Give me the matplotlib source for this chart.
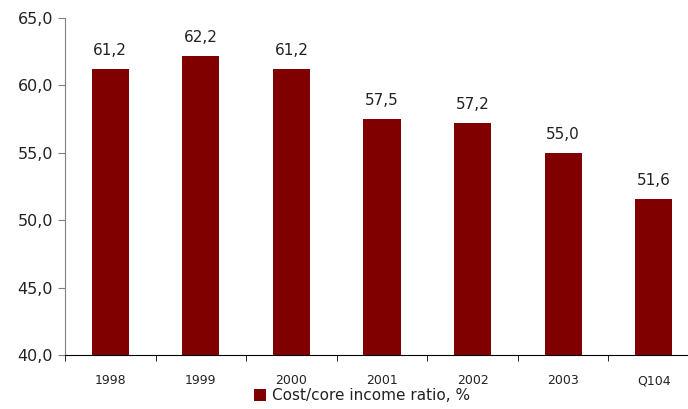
import numpy as np
import matplotlib.pyplot as plt

years = ['1998', '1999', '2000', '2001', '2002', '2003', 'Q104']
ratio = [61.2, 62.2, 61.2, 57.5, 57.2, 55.0, 51.6]

fig = plt.figure(figsize=(6.88, 4.09), dpi=100)
ax = fig.add_axes([65 / 688, 54 / 409, 634 / 688, 337 / 409])

x = np.arange(len(years))
bars = ax.bar(x, ratio, width=0.41, color='#800000', label='Cost/core income ratio, %')

for xi, v in zip(x, ratio):
    ax.text(xi, v + 0.8, f'{v:.1f}'.replace('.', ','), ha='center', va='bottom',
            fontsize=11, color='#222222')

ax.set_ylim(40, 65)
ax.set_xlim(-0.5, len(years) - 0.5)
ax.set_yticks(np.arange(40, 66, 5))
ax.set_yticklabels([f'{t:.1f}'.replace('.', ',') for t in np.arange(40, 66, 5)],
                   fontsize=11.5, color='#222222')
ax.set_xticks(x)
ax.set_xticklabels(years, fontsize=9, color='#222222')
ax.set_xticks(np.arange(-0.5, len(years), 1), minor=True)
ax.tick_params(axis='x', which='major', length=0, pad=14)
ax.tick_params(axis='x', which='minor', length=4, direction='out')
ax.tick_params(axis='y', length=5, direction='out', color='#808080')

for s in ['top', 'right']:
    ax.spines[s].set_visible(False)
ax.spines['left'].set_color('#808080')
ax.spines['bottom'].set_color('black')

leg = ax.legend(loc='center', bbox_to_anchor=(362 / 688, 13 / 409),
                bbox_transform=fig.transFigure, frameon=False, fontsize=11,
                handlelength=0.8, handleheight=0.8, handletextpad=0.4)
for t in leg.get_texts():
    t.set_color('#222222')

fig.savefig('out.png')
